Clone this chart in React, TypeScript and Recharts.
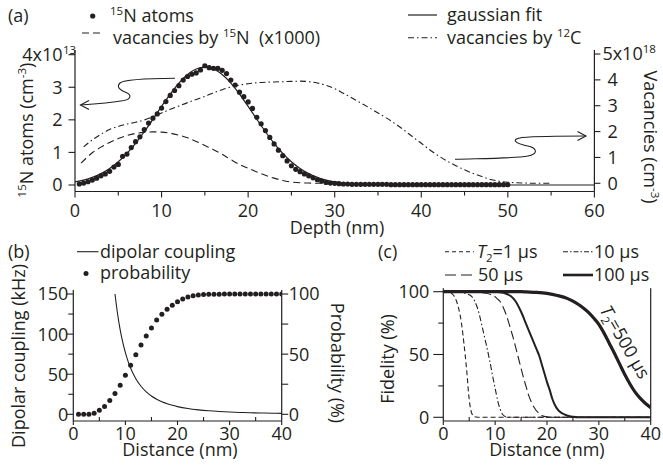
import React from 'react';
import { ComposedChart, Line, Scatter, XAxis, YAxis } from 'recharts';

const INK = '#231f20';
const FONT = '"Open Sans", "DejaVu Sans", sans-serif';
const FS = 18;
const SUP = 11.5;

// ---------------- Panel (a) ----------------
const depthTicks = [0, 5, 10, 15, 20, 25, 30, 35, 40, 45, 50, 55, 60];
const atomTicks = [0, 1, 2, 3, 4];
const vacancyTicks = [0, 1, 2, 3, 4, 5];

const n15Depth = [
  0.5, 1, 1.5, 2, 2.5, 3, 3.5, 4, 4.5, 5, 5.5, 6, 6.5, 7, 7.5, 8, 8.5, 9, 9.5, 10,
  10.5, 11, 11.5, 12, 12.5, 13, 13.5, 14, 14.5, 15, 15.5, 16, 16.5, 17, 17.5, 18, 18.5, 19, 19.5, 20,
  20.5, 21, 21.5, 22, 22.5, 23, 23.5, 24, 24.5, 25, 25.5, 26, 26.5, 27, 27.5, 28, 28.5, 29, 29.5, 30,
  30.5, 31, 31.5, 32, 32.5, 33, 33.5, 34, 34.5, 35, 35.5, 36, 36.5, 37, 37.5, 38, 38.5, 39, 39.5, 40,
  40.5, 41, 41.5, 42, 42.5, 43, 43.5, 44, 44.5, 45, 45.5, 46, 46.5, 47, 47.5, 48, 48.5, 49, 49.5, 50,
];
const n15Atoms = [
  0.03, 0.06, 0.10, 0.15, 0.21, 0.28, 0.34, 0.42, 0.55, 0.63,
  0.88, 0.95, 1.15, 1.33, 1.48, 1.70, 1.90, 2.05, 2.18, 2.36,
  2.56, 2.75, 2.90, 3.05, 3.22, 3.33, 3.40, 3.44, 3.53, 3.66,
  3.60, 3.58, 3.58, 3.52, 3.42, 3.22, 3.07, 2.85, 2.71, 2.55,
  2.35, 2.08, 1.88, 1.67, 1.46, 1.26, 1.07, 0.90, 0.74, 0.59,
  0.48, 0.41, 0.34, 0.28, 0.22, 0.16, 0.12, 0.08, 0.06, 0.05,
  0.04, 0.03, 0.03, 0.02, 0.02, 0.02, 0.02, 0.02, 0.02, 0.02,
  0.02, 0.02, 0.01, 0.01, 0.01, 0.01, 0.01, 0.01, 0.01, 0.01,
  0.01, 0.01, 0.01, 0.01, 0.01, 0.01, 0.01, 0.01, 0.01, 0.01,
  0.01, 0.01, 0.01, 0.01, 0.01, 0.01, 0.01, 0.01, 0.01, 0.01,
];

const fitDepth = [
  0, 1, 2, 3, 4, 5, 6, 7, 8, 9, 10, 11, 12, 13, 14, 15, 16, 17, 18, 19, 20,
  21, 22, 23, 24, 25, 26, 27, 28, 29, 30, 31, 32, 33, 34, 35, 36, 37, 40, 50, 60,
];
const fitAtoms = [
  0.094, 0.150, 0.233, 0.349, 0.508, 0.714, 0.972, 1.281, 1.634, 2.018, 2.412,
  2.792, 3.128, 3.392, 3.562, 3.620, 3.562, 3.392, 3.128, 2.792, 2.412,
  2.018, 1.634, 1.281, 0.972, 0.714, 0.508, 0.349, 0.233, 0.150, 0.094,
  0.057, 0.033, 0.019, 0.010, 0.005, 0.003, 0.001, 0, 0, 0,
];

const vac15NDepth = [0.7, 2, 3, 4, 5, 6, 7, 8, 9, 10, 11, 12, 13, 14, 15, 16, 17, 18, 19, 20, 21, 22, 23, 24, 25, 26, 27, 28, 29, 30];
const vac15N = [
  0.78, 1.18, 1.40, 1.58, 1.73, 1.85, 1.93, 1.97, 1.99, 1.98, 1.94, 1.86, 1.76, 1.62, 1.46,
  1.30, 1.12, 0.92, 0.73, 0.58, 0.44, 0.31, 0.20, 0.11, 0.05, 0.02, 0.01, 0, 0, 0,
];

const vac12CDepth = [
  1, 2, 3, 4, 5, 6, 7, 8, 9, 10, 11, 12, 13, 14, 15, 16, 17, 18, 19, 20,
  21, 22, 23, 24, 25, 26, 27, 28, 29, 30, 31, 32, 33, 34, 35, 36, 37, 38, 39, 40,
  41, 42, 43, 44, 45, 46, 47, 48, 49, 50, 51, 52, 53, 54, 55,
];
const vac12C = [
  1.41, 1.68, 1.90, 2.08, 2.20, 2.29, 2.36, 2.45, 2.58, 2.72, 2.86, 2.99, 3.12, 3.24, 3.36, 3.50, 3.62, 3.72, 3.80, 3.85,
  3.89, 3.91, 3.92, 3.93, 3.94, 3.95, 3.93, 3.88, 3.79, 3.66, 3.48, 3.30, 3.11, 2.92, 2.72, 2.52, 2.30, 2.06, 1.80, 1.55,
  1.29, 1.06, 0.86, 0.68, 0.52, 0.38, 0.26, 0.15, 0.08, 0.04, 0.02, 0.01, 0, 0, 0,
];

// ---------------- Panel (b) ----------------
const distTicks = [0, 5, 10, 15, 20, 25, 30, 35, 40];
const couplingTicks = [0, 25, 50, 75, 100, 125, 150];
const probTicks = [0, 25, 50, 75, 100];

const couplingDist = [8, 8.5, 9, 9.5, 10, 10.5, 11, 11.5, 12, 13, 14, 15, 16, 17, 18, 19, 20, 22, 24, 26, 28, 30, 32, 34, 36, 38, 40];
const couplingKHz = [150, 125.1, 105.3, 89.6, 76.8, 66.3, 57.7, 50.5, 44.4, 35.0, 28.0, 22.8, 18.75, 15.6, 13.2, 11.2, 9.6, 7.2, 5.56, 4.37, 3.50, 2.84, 2.34, 1.95, 1.65, 1.40, 1.20];

const probDist = [
  1, 2, 3, 4, 5, 6, 7, 8, 9, 10, 11, 12, 13, 14, 15, 16, 17, 18, 19, 20,
  21, 22, 23, 24, 25, 26, 27, 28, 29, 30, 31, 32, 33, 34, 35, 36, 37, 38, 39, 40,
];
const probability = [
  0, 0, 0, 0.8, 3.3, 6.4, 11.4, 17.2, 24.1, 32.4, 40.7, 49.6, 57.6, 65.1, 71.7, 78.4, 83.1, 87.3, 90.6, 93.6,
  95.8, 97.5, 98.6, 99.2, 99.5, 99.7, 99.8, 99.9, 100, 100, 100, 100, 100, 100, 100, 100, 100, 100, 100, 100,
];

// ---------------- Panel (c) ----------------
const fidelityTicks = [0, 25, 50, 75, 100];

const t1Dist = [0, 1, 1.5, 2, 2.5, 3, 3.5, 4, 4.5, 5, 5.5, 6, 7, 10, 20, 30, 40];
const t1Fid = [100, 99.8, 99, 97, 93, 86, 75, 58, 38, 14, 3, 0.5, 0, 0, 0, 0, 0];

const t10Dist = [0, 3, 4, 5, 5.5, 6, 6.5, 7, 7.5, 8, 8.5, 9, 9.5, 10, 10.5, 11, 11.5, 12, 13, 20, 30, 40];
const t10Fid = [100, 99.8, 99, 97.5, 96, 93, 88, 81, 72, 63, 54, 44, 33, 23, 13, 6, 2, 0.5, 0, 0, 0, 0];

const t50Dist = [0, 6, 7, 8, 9, 10, 10.5, 11, 11.5, 12, 12.5, 13, 13.5, 14, 14.5, 15, 15.5, 16, 16.5, 17, 17.5, 18, 18.5, 19, 20, 21, 30, 40];
const t50Fid = [100, 100, 99.5, 99, 98, 96, 94, 92, 88, 83, 77, 70, 63, 55, 47, 39, 31, 24, 17, 12, 8, 5, 3, 1.5, 0.3, 0, 0, 0];

const t100Dist = [0, 10, 11, 12, 13, 14, 15, 16, 17, 18, 18.5, 19, 19.5, 20, 20.5, 21, 21.5, 22, 23, 24, 25, 26, 30, 40];
const t100Fid = [100, 100, 99.5, 98.5, 96.5, 92, 84, 74, 64, 54, 49, 42, 35, 28, 22, 15, 10, 6.5, 3, 1.2, 0.4, 0, 0, 0];

const t500Dist = [0, 15, 16, 18, 20, 22, 24, 25, 26, 27, 28, 29, 30, 31, 32, 33, 34, 35, 36, 37, 38, 39, 40];
const t500Fid = [100, 100, 99.8, 99.4, 98.6, 97, 94.5, 92.5, 90, 87, 83.5, 79, 74, 67, 59, 51, 42.5, 34, 26.5, 20, 15, 11, 7.7];

const pts = (xs: number[], ys: number[]) => xs.map((x, i) => ({ x, y: ys[i] }));

// ---------------- tick renderers ----------------
const isMajor = (v: number, every: number) => Math.abs(v / every - Math.round(v / every)) < 1e-6;

const bottomTick = (every: number, majLen: number, minLen: number, minorInward: boolean, gap: number) => (p: any) => {
  const { x, y, payload } = p;
  const v = payload.value as number;
  const major = isMajor(v, every);
  const len = major ? majLen : minLen;
  const y2 = !major && minorInward ? y - len : y + len;
  return (
    <g>
      <line x1={x} x2={x} y1={y} y2={y2} stroke={INK} strokeWidth={1.1} />
      {major ? (
        <text x={x} y={y + gap} textAnchor="middle" fontFamily={FONT} fontSize={FS} fill={INK}>{v}</text>
      ) : null}
    </g>
  );
};

const leftTick = (every: number, majLen: number, minLen: number, gap: number, supAt?: number, base?: string, exp?: string) => (p: any) => {
  const { x, y, payload } = p;
  const v = payload.value as number;
  const major = isMajor(v, every);
  const len = major ? majLen : minLen;
  const tx = x - gap;
  return (
    <g>
      <line x1={x - len} x2={x} y1={y} y2={y} stroke={INK} strokeWidth={1.1} />
      {major && supAt === v ? (
        <g>
          <text x={tx} y={y + 6.4} textAnchor="end" fontFamily={FONT} fontSize={FS} fill={INK}>{base}</text>
          <text x={tx + 0.5} y={y - 0.5} textAnchor="start" fontFamily={FONT} fontSize={SUP} fill={INK}>{exp}</text>
        </g>
      ) : major ? (
        <text x={tx} y={y + 6.4} textAnchor="end" fontFamily={FONT} fontSize={FS} fill={INK}>{v}</text>
      ) : null}
    </g>
  );
};

const rightTick = (every: number, majLen: number, minLen: number, gap: number, supAt?: number, base?: string, exp?: string) => (p: any) => {
  const { x, y, payload } = p;
  const v = payload.value as number;
  const major = isMajor(v, every);
  const len = major ? majLen : minLen;
  return (
    <g>
      <line x1={x} x2={x + len} y1={y} y2={y} stroke={INK} strokeWidth={1.1} />
      {major && supAt === v ? (
        <text x={x + gap - 5} y={y + 6.4} textAnchor="start" fontFamily={FONT} fontSize={FS} fill={INK}>
          {base}
          <tspan fontSize={SUP} dy={-7}>{exp}</tspan>
        </text>
      ) : major ? (
        <text x={x + gap} y={y + 6.4} textAnchor="start" fontFamily={FONT} fontSize={FS} fill={INK}>{v}</text>
      ) : null}
    </g>
  );
};

const Dot = (r: number) => (p: any) => <circle cx={p.cx} cy={p.cy} r={r} fill={INK} />;

// ---------------- charts ----------------
const PanelA = () => (
  <div style={{ position: 'absolute', left: 0, top: 0 }}>
    <ComposedChart width={663} height={240} margin={{ top: 50, right: 0, bottom: 0, left: 0 }}>
      <XAxis xAxisId="x" dataKey="x" type="number" domain={[0, 60]} ticks={depthTicks} interval={0}
        allowDataOverflow height={48.5} tickSize={0} tickMargin={0} tickLine={false}
        axisLine={{ stroke: INK, strokeWidth: 1.2 }} tick={bottomTick(10, 6, 4, false, 25)} />
      <XAxis xAxisId="top" type="number" orientation="top" domain={[0, 60]} height={0}
        tick={false} tickLine={false} axisLine={{ stroke: '#9a9a9a', strokeWidth: 1.2 }} />
      <YAxis yAxisId="atoms" dataKey="y" type="number" orientation="left" width={75}
        domain={[-0.2, 4.144]} ticks={atomTicks} interval={0} allowDataOverflow tickSize={0} tickMargin={0}
        tickLine={false} axisLine={{ stroke: INK, strokeWidth: 1.2 }}
        tick={leftTick(1, 6.5, 6.5, 12.5, 4, '4x10', '13')} />
      <YAxis yAxisId="vac" dataKey="y" type="number" orientation="right" width={68.6}
        domain={[-0.317, 5.155]} ticks={vacancyTicks} interval={0} allowDataOverflow tickSize={0} tickMargin={0}
        tickLine={false} axisLine={{ stroke: INK, strokeWidth: 1.2 }}
        tick={rightTick(1, 6, 6, 13, 5, '5x10', '18')} />
      <Line xAxisId="x" yAxisId="vac" data={pts(vac15NDepth, vac15N)} dataKey="y" type="monotone"
        stroke={INK} strokeWidth={1.1} strokeDasharray="7 4" dot={false} isAnimationActive={false} />
      <Line xAxisId="x" yAxisId="vac" data={pts(vac12CDepth, vac12C)} dataKey="y" type="monotone"
        stroke={INK} strokeWidth={1.1} strokeDasharray="6 3 1.5 3" dot={false} isAnimationActive={false} />
      <Line xAxisId="x" yAxisId="atoms" data={pts(fitDepth, fitAtoms)} dataKey="y" type="monotone"
        stroke={INK} strokeWidth={1.2} dot={false} isAnimationActive={false} />
      <Scatter xAxisId="x" yAxisId="atoms" data={pts(n15Depth, n15Atoms)} dataKey="y"
        shape={Dot(2.6)} isAnimationActive={false} />
    </ComposedChart>
  </div>
);

const PanelB = () => (
  <div style={{ position: 'absolute', left: 0, top: 230 }}>
    <ComposedChart width={345} height={235} margin={{ top: 60, right: 0, bottom: 0, left: 0 }}>
      <XAxis xAxisId="x" dataKey="x" type="number" domain={[0, 40]} ticks={distTicks} interval={0}
        allowDataOverflow height={44} tickSize={0} tickMargin={0} tickLine={false}
        axisLine={{ stroke: INK, strokeWidth: 1.2 }} tick={bottomTick(10, 4, 4, true, 18.5)} />
      <XAxis xAxisId="top" type="number" orientation="top" domain={[0, 40]} height={0}
        tick={false} tickLine={false} axisLine={{ stroke: INK, strokeWidth: 1.2 }} />
      <YAxis yAxisId="kHz" dataKey="y" type="number" orientation="left" width={73.3}
        domain={[-8.35, 155]} ticks={couplingTicks} interval={0} allowDataOverflow tickSize={0} tickMargin={0}
        tickLine={false} axisLine={{ stroke: INK, strokeWidth: 1.2 }} tick={leftTick(50, 6.5, 5, 5)} />
      <YAxis yAxisId="prob" dataKey="y" type="number" orientation="right" width={63.3}
        domain={[-5.57, 103.33]} ticks={probTicks} interval={0} allowDataOverflow tickSize={0} tickMargin={0}
        tickLine={false} axisLine={{ stroke: INK, strokeWidth: 1.2 }} tick={rightTick(50, 6.5, 6.5, 7)} />
      <Line xAxisId="x" yAxisId="kHz" data={pts(couplingDist, couplingKHz)} dataKey="y" type="monotone"
        stroke={INK} strokeWidth={1.1} dot={false} isAnimationActive={false} />
      <Scatter xAxisId="x" yAxisId="prob" data={pts(probDist, probability)} dataKey="y"
        shape={Dot(2.5)} isAnimationActive={false} />
    </ComposedChart>
  </div>
);

const PanelC = () => (
  <div style={{ position: 'absolute', left: 340, top: 230 }}>
    <ComposedChart width={323} height={235} margin={{ top: 58.3, right: 0, bottom: 0, left: 0 }}>
      <XAxis xAxisId="x" dataKey="x" type="number" domain={[0, 40]} ticks={distTicks} interval={0}
        allowDataOverflow height={44} tickSize={0} tickMargin={0} tickLine={false}
        axisLine={{ stroke: INK, strokeWidth: 1.2 }} tick={bottomTick(10, 4, 4, true, 18.5)} />
      <XAxis xAxisId="top" type="number" orientation="top" domain={[0, 40]} height={0}
        tick={false} tickLine={false} axisLine={{ stroke: INK, strokeWidth: 1.2 }} />
      <YAxis yAxisId="fid" dataKey="y" type="number" orientation="left" width={103.3}
        domain={[-2.95, 102.7]} ticks={fidelityTicks} interval={0} allowDataOverflow tickSize={0} tickMargin={0}
        tickLine={false} axisLine={{ stroke: INK, strokeWidth: 1.2 }} tick={leftTick(50, 10, 5, 14)} />
      <YAxis yAxisId="frame" type="number" orientation="right" width={12.3} domain={[0, 1]}
        tick={false} tickLine={false} axisLine={{ stroke: INK, strokeWidth: 1.2 }} />
      <Line xAxisId="x" yAxisId="fid" data={pts(t1Dist, t1Fid)} dataKey="y" type="monotone"
        stroke={INK} strokeWidth={1.1} strokeDasharray="5 3" dot={false} isAnimationActive={false} />
      <Line xAxisId="x" yAxisId="fid" data={pts(t10Dist, t10Fid)} dataKey="y" type="monotone"
        stroke={INK} strokeWidth={1.1} strokeDasharray="6 2.5 1.5 2.5" dot={false} isAnimationActive={false} />
      <Line xAxisId="x" yAxisId="fid" data={pts(t50Dist, t50Fid)} dataKey="y" type="monotone"
        stroke={INK} strokeWidth={1.1} strokeDasharray="9 4" dot={false} isAnimationActive={false} />
      <Line xAxisId="x" yAxisId="fid" data={pts(t100Dist, t100Fid)} dataKey="y" type="monotone"
        stroke={INK} strokeWidth={2} dot={false} isAnimationActive={false} />
      <Line xAxisId="x" yAxisId="fid" data={pts(t500Dist, t500Fid)} dataKey="y" type="monotone"
        stroke={INK} strokeWidth={3.2} dot={false} isAnimationActive={false} />
    </ComposedChart>
  </div>
);

const T = (props: any) => <text fontFamily={FONT} fontSize={FS} fill={INK} style={{ whiteSpace: 'pre' }} {...props} />;

const Overlay = () => (
  <svg width={663} height={465} style={{ position: 'absolute', left: 0, top: 0, pointerEvents: 'none' }}>
    {/* panel (a) legend */}
    <T x={8} y={21.5}>(a)</T>
    <circle cx={92.7} cy={16} r={2.6} fill={INK} />
    <T x={110} y={21.5}><tspan fontSize={SUP} dy={-7}>15</tspan><tspan dy={7}>N atoms</tspan></T>
    <line x1={82} x2={101} y1={33} y2={33} stroke={INK} strokeWidth={1.1} strokeDasharray="7 4" />
    <T x={113} y={43.5}>vacancies by <tspan fontSize={SUP} dy={-7}>15</tspan><tspan dy={7}>N  (x1000)</tspan></T>
    <line x1={408} x2={437} y1={15} y2={15} stroke={INK} strokeWidth={1.2} />
    <T x={447} y={21}>gaussian fit</T>
    <line x1={408} x2={437} y1={37.7} y2={37.7} stroke={INK} strokeWidth={1.1} strokeDasharray="6 3 1.5 3" />
    <T x={447} y={43.5}>vacancies by <tspan fontSize={SUP} dy={-7}>12</tspan><tspan dy={7}>C</tspan></T>

    {/* panel (a) axis titles */}
    <T x={337} y={233.5} textAnchor="middle">Depth (nm)</T>
    <T transform="translate(32.5,130) rotate(-90)" textAnchor="middle">
      <tspan fontSize={SUP} dy={-7}>15</tspan><tspan dy={7}>N atoms (cm</tspan><tspan fontSize={SUP} dy={-7}>-3</tspan><tspan dy={7}>)</tspan>
    </T>
    <T transform="translate(643.5,137) rotate(90)" textAnchor="middle">
      Vacancies (cm<tspan fontSize={SUP} dy={-7}>-3</tspan><tspan dy={7}>)</tspan>
    </T>

    {/* panel (a) curly arrows */}
    <path d="M175,78.3 C150,78.5 125,79 120,83 C116,87 120,90 126,92.5 C132,95 131,99 124,100.5 C115,102 95,104 80.5,105"
      fill="none" stroke={INK} strokeWidth={1.1} />
    <path d="M89,100.5 L80.5,105 L89,109.5" fill="none" stroke={INK} strokeWidth={1.1} />
    <path d="M455,159.3 C480,158.5 515,158.5 528,156 C538,154 537,149 530,146.5 C512,143 512,139 522,137.5 C540,136 565,136 586,136"
      fill="none" stroke={INK} strokeWidth={1.1} />
    <path d="M577.5,131.5 L586,136 L577.5,140.5" fill="none" stroke={INK} strokeWidth={1.1} />

    {/* panel (b) legend & titles */}
    <T x={8} y={258}>(b)</T>
    <line x1={77} x2={98.5} y1={251.7} y2={251.7} stroke={INK} strokeWidth={1.1} />
    <T x={100} y={258}>dipolar coupling</T>
    <circle cx={86} cy={273.5} r={2.5} fill={INK} />
    <T x={100} y={279}>probability</T>
    <T x={180} y={456} textAnchor="middle">Distance (nm)</T>
    <T transform="translate(24.5,356) rotate(-90)" textAnchor="middle">Dipolar coupling (kHz)</T>
    <T transform="translate(330.5,363) rotate(90)" textAnchor="middle">Probability (%)</T>

    {/* panel (c) legend & titles */}
    <T x={378} y={258}>(c)</T>
    <line x1={445} x2={474} y1={251.7} y2={251.7} stroke={INK} strokeWidth={1.1} strokeDasharray="4 3" />
    <T x={477} y={258}><tspan fontStyle="italic">T</tspan><tspan fontSize={SUP} dy={4}>2</tspan><tspan dy={-4}>=1 µs</tspan></T>
    <line x1={563} x2={593} y1={251.7} y2={251.7} stroke={INK} strokeWidth={1.1} strokeDasharray="5 2 1.5 2" />
    <T x={594} y={258}>10 µs</T>
    <line x1={445} x2={474} y1={275} y2={275} stroke={INK} strokeWidth={1.1} strokeDasharray="11 5" />
    <T x={478} y={281}>50 µs</T>
    <line x1={563} x2={593} y1={275} y2={275} stroke={INK} strokeWidth={2.6} />
    <T x={594} y={281}>100 µs</T>
    <T x={547} y={456} textAnchor="middle">Distance (nm)</T>
    <T transform="translate(393.5,359) rotate(-90)" textAnchor="middle">Fidelity (%)</T>
    <T transform="translate(625,342) rotate(60)" textAnchor="middle" dy="0.35em">
      <tspan fontStyle="italic">T</tspan><tspan fontSize={SUP} dy={4}>2</tspan><tspan dy={-4}>=500 µs</tspan>
    </T>
  </svg>
);

export default function App() {
  return (
    <div style={{ position: 'absolute', left: 0, top: 0, width: 663, height: 465, background: '#fff', overflow: 'hidden' }}>
      <PanelA />
      <PanelB />
      <PanelC />
      <Overlay />
    </div>
  );
}
